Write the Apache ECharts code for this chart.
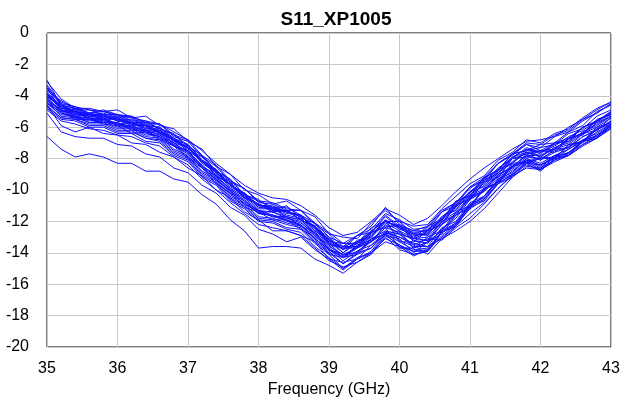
<!DOCTYPE html>
<html>
<head>
<meta charset="utf-8">
<script src="https://cdn.jsdelivr.net/npm/echarts@6/dist/echarts.min.js"></script>
<style>html,body{margin:0;padding:0;background:#fff}#c{width:623px;height:404px}</style>
</head>
<body>
<div id="c"></div>
<script>
const title = 'S11_XP1005';
const xName = 'Frequency (GHz)';
const freq = [35.0,35.2,35.4,35.6,35.8,36.0,36.2,36.4,36.6,36.8,37.0,37.2,37.4,37.6,37.8,38.0,38.2,38.4,38.6,38.8,39.0,39.2,39.4,39.6,39.8,40.0,40.2,40.4,40.6,40.8,41.0,41.2,41.4,41.6,41.8,42.0,42.2,42.4,42.6,42.8,43.0];
const s1 = [-3.1,-4.2,-4.8,-4.8,-5.0,-4.9,-5.4,-5.3,-5.9,-6.1,-6.9,-7.4,-8.5,-9.0,-10.0,-10.3,-10.9,-10.7,-11.3,-11.7,-12.8,-13.0,-13.1,-12.1,-11.3,-12.0,-12.3,-12.2,-11.2,-10.4,-9.6,-9.1,-8.1,-7.6,-6.8,-7.0,-6.4,-6.1,-5.4,-4.8,-4.4];
const s2 = [-3.4,-4.6,-4.8,-5.1,-5.0,-5.3,-5.3,-5.8,-5.8,-6.6,-6.9,-7.9,-8.5,-9.5,-9.9,-10.8,-10.9,-11.3,-11.3,-12.2,-12.8,-13.6,-12.9,-12.7,-11.6,-12.3,-12.6,-12.6,-11.4,-11.0,-9.8,-9.4,-8.3,-7.8,-7.1,-7.3,-6.6,-6.3,-5.6,-5.1,-4.5];
const s3 = [-3.6,-4.5,-5.1,-5.1,-5.3,-5.3,-5.7,-5.7,-6.1,-6.5,-7.2,-7.8,-8.8,-9.3,-10.3,-10.6,-11.3,-11.0,-11.8,-12.1,-13.3,-13.4,-13.4,-12.4,-12.0,-12.0,-13.1,-12.3,-11.9,-10.7,-10.4,-9.2,-8.8,-7.7,-7.5,-7.1,-7.0,-6.3,-5.9,-5.0,-4.6];
const s4 = [-3.8,-4.8,-4.9,-5.2,-5.2,-5.6,-5.6,-6.1,-6.1,-6.9,-7.2,-8.2,-8.7,-9.7,-10.2,-11.0,-11.1,-11.5,-11.6,-12.6,-13.1,-14.0,-13.2,-13.0,-11.9,-12.5,-12.8,-12.9,-11.7,-11.3,-10.1,-9.8,-8.7,-8.3,-7.4,-7.7,-7.0,-6.9,-6.0,-5.7,-5.0];
const s5 = [-4.0,-4.7,-5.3,-5.2,-5.5,-5.5,-5.9,-5.9,-6.4,-6.8,-7.5,-8.1,-9.1,-9.6,-10.5,-10.9,-11.4,-11.3,-11.9,-12.4,-13.5,-13.7,-13.7,-12.7,-12.4,-12.2,-13.3,-12.6,-12.2,-11.0,-10.6,-9.5,-9.2,-8.0,-7.9,-7.5,-7.6,-6.7,-6.5,-5.7,-5.3];
const s6 = [-4.1,-5.0,-5.0,-5.5,-5.4,-5.8,-5.9,-6.3,-6.4,-7.2,-7.5,-8.5,-9.0,-10.0,-10.5,-11.3,-11.4,-11.7,-11.9,-12.8,-13.5,-14.3,-13.6,-13.3,-12.2,-12.8,-13.1,-13.2,-12.0,-11.6,-10.4,-10.1,-9.0,-8.6,-7.7,-8.1,-7.4,-7.3,-6.4,-6.2,-5.4];
const s7 = [-4.3,-4.9,-5.4,-5.4,-5.7,-5.7,-6.2,-6.2,-6.7,-7.1,-7.9,-8.5,-9.4,-10.0,-10.9,-11.3,-11.7,-11.7,-12.3,-12.7,-13.8,-14.1,-14.0,-13.1,-12.8,-12.6,-13.7,-13.0,-12.6,-11.4,-11.0,-9.9,-9.5,-8.3,-8.2,-7.9,-8.0,-7.1,-6.9,-6.0,-5.7];
const s8 = [-4.5,-5.2,-5.3,-5.7,-5.7,-6.1,-6.1,-6.6,-6.7,-7.5,-7.9,-8.9,-9.4,-10.4,-10.9,-11.7,-11.8,-12.1,-12.3,-13.2,-13.9,-14.7,-14.0,-13.7,-12.6,-13.2,-13.6,-13.6,-12.4,-12.0,-10.8,-10.4,-9.3,-8.9,-8.0,-8.5,-7.8,-7.7,-6.8,-6.6,-5.9];
const s9 = [-4.7,-5.4,-5.5,-5.9,-5.9,-6.3,-6.3,-6.7,-6.9,-7.7,-8.1,-9.1,-9.6,-10.6,-11.1,-11.9,-12.0,-12.4,-12.5,-13.4,-14.1,-15.0,-14.3,-14.0,-12.9,-13.5,-13.9,-13.9,-12.7,-12.2,-11.0,-10.6,-9.5,-9.1,-8.2,-8.7,-7.9,-7.8,-6.9,-6.7,-6.0];
const s10 = [-6.6,-7.4,-7.9,-7.7,-7.9,-8.3,-8.3,-8.8,-8.8,-9.3,-9.5,-10.3,-10.9,-11.9,-12.6,-13.7,-13.6,-13.6,-13.7,-14.4,-14.8,-15.3,-14.6,-14.1,-13.0,-13.8,-14.1,-13.9,-12.7,-12.3,-11.1,-10.7,-9.6,-9.2,-8.3,-8.8,-8.0,-7.8,-6.9,-6.7,-5.9];
const s11 = [-5.1,-6.3,-6.6,-6.7,-6.7,-7.1,-7.2,-7.7,-7.9,-8.6,-8.9,-9.7,-10.2,-11.1,-11.6,-12.5,-12.8,-13.3,-13.0,-13.8,-14.4,-15.1,-14.4,-13.9,-12.8,-13.6,-13.9,-13.8,-12.6,-12.1,-10.9,-10.5,-9.4,-9.0,-8.1,-8.6,-7.8,-7.7,-6.8,-6.6,-5.8];
const s12 = [-4.6,-5.9,-6.3,-6.0,-6.4,-6.5,-7.0,-7.1,-7.6,-7.9,-8.6,-9.1,-10.0,-10.5,-11.4,-11.9,-12.6,-12.6,-12.9,-13.3,-14.4,-14.6,-14.4,-13.5,-12.9,-13.1,-14.0,-13.3,-12.8,-11.6,-11.1,-9.9,-9.6,-8.4,-8.3,-8.0,-8.0,-7.1,-7.0,-6.1,-5.8];
const s13 = [-3.5,-4.9,-5.2,-5.3,-5.2,-5.5,-5.5,-5.9,-6.0,-6.8,-7.1,-8.1,-8.7,-9.7,-10.2,-11.0,-11.0,-11.4,-11.6,-12.5,-13.1,-13.8,-12.9,-12.3,-11.1,-12.2,-12.6,-12.3,-11.3,-10.8,-9.9,-9.3,-8.3,-7.7,-7.1,-7.5,-7.0,-6.7,-6.0,-5.6,-5.1];
const s14 = [-3.9,-4.7,-4.9,-5.5,-5.5,-5.8,-5.7,-6.2,-6.3,-7.0,-7.3,-8.2,-8.8,-9.9,-10.4,-11.2,-11.2,-11.7,-11.9,-12.7,-13.4,-14.2,-13.6,-13.0,-11.9,-13.3,-13.3,-13.2,-12.2,-11.6,-10.5,-10.0,-9.0,-8.5,-7.8,-7.8,-7.4,-7.1,-6.4,-6.0,-5.4];
const s15 = [-4.4,-5.3,-5.4,-5.7,-5.6,-6.0,-6.0,-6.4,-6.6,-7.4,-7.8,-8.8,-9.3,-10.3,-10.8,-11.5,-11.6,-12.0,-12.2,-13.1,-13.8,-14.5,-13.9,-13.5,-12.7,-13.0,-13.5,-14.1,-13.1,-12.3,-11.1,-10.4,-9.3,-8.7,-8.0,-8.3,-7.8,-7.4,-6.8,-6.4,-5.8];
const s16 = [-3.7,-4.3,-4.9,-4.9,-5.2,-5.2,-5.6,-5.6,-6.1,-6.4,-7.2,-7.8,-8.8,-9.4,-10.3,-10.7,-11.1,-11.1,-11.6,-12.1,-13.0,-13.4,-13.4,-12.6,-12.0,-12.0,-12.8,-12.5,-11.9,-10.8,-10.2,-9.2,-8.7,-7.7,-7.5,-7.3,-7.1,-6.4,-6.1,-5.3,-4.9];
const s17 = [-4.2,-5.0,-5.1,-5.4,-5.4,-5.9,-5.9,-6.2,-6.3,-7.1,-7.5,-8.5,-9.1,-10.1,-10.6,-11.4,-11.4,-11.8,-12.0,-12.9,-13.7,-14.3,-13.5,-13.2,-12.4,-12.7,-13.2,-13.4,-12.5,-11.8,-10.6,-10.0,-9.1,-8.5,-7.8,-8.1,-7.6,-7.3,-6.6,-6.2,-5.6];
const s18 = [-4.0,-4.6,-5.2,-5.2,-5.5,-5.4,-5.8,-5.8,-6.3,-6.7,-7.4,-7.9,-8.9,-9.5,-10.5,-10.9,-11.4,-11.3,-11.9,-12.3,-13.4,-13.6,-13.6,-12.7,-12.3,-12.3,-13.1,-12.7,-12.1,-11.0,-10.5,-9.5,-8.9,-8.0,-7.7,-7.5,-7.4,-6.7,-6.4,-5.6,-5.2];
const s19 = [-4.6,-5.4,-5.5,-5.8,-5.8,-6.2,-6.2,-6.7,-6.8,-7.6,-8.0,-9.0,-9.5,-10.5,-11.0,-11.8,-11.9,-12.2,-12.4,-13.3,-14.0,-14.7,-14.1,-13.7,-12.8,-13.3,-13.8,-13.7,-12.7,-12.1,-11.0,-10.4,-9.4,-8.8,-8.1,-8.4,-7.9,-7.6,-6.9,-6.5,-5.9];
const s20 = [-3.3,-4.5,-4.7,-5.1,-4.9,-5.2,-5.3,-5.7,-5.8,-6.5,-6.8,-7.8,-8.4,-9.4,-9.9,-10.7,-10.8,-11.2,-11.3,-12.1,-12.7,-13.4,-12.9,-12.5,-11.5,-11.9,-12.5,-12.4,-11.4,-10.8,-9.8,-9.2,-8.3,-7.7,-7.0,-7.1,-6.5,-6.2,-5.5,-5.1,-4.5];
const s21 = [-4.3,-5.1,-5.3,-5.6,-5.5,-5.9,-6.0,-6.5,-6.5,-7.2,-7.6,-8.6,-9.2,-10.2,-10.7,-11.5,-11.6,-11.9,-12.2,-13.1,-13.8,-14.3,-13.7,-13.3,-12.4,-13.7,-13.7,-13.3,-12.2,-11.5,-10.6,-10.1,-9.2,-8.6,-7.9,-8.0,-7.5,-7.3,-6.6,-6.2,-5.6];
const s22 = [-4.8,-5.5,-5.6,-6.0,-6.0,-6.4,-6.4,-6.9,-7.0,-7.8,-8.2,-9.2,-9.7,-10.7,-11.2,-12.0,-12.1,-12.5,-12.7,-13.6,-14.3,-15.0,-14.4,-14.0,-13.1,-13.5,-14.1,-13.9,-12.9,-12.2,-11.2,-10.6,-9.6,-9.0,-8.4,-8.7,-8.1,-7.8,-7.1,-6.7,-6.0];
const s23 = [-4.1,-4.6,-5.1,-5.1,-5.4,-5.4,-5.8,-5.9,-6.4,-6.8,-7.5,-8.1,-9.1,-9.6,-10.5,-10.9,-11.3,-11.3,-11.9,-12.3,-13.4,-13.7,-13.6,-12.6,-12.0,-12.4,-13.0,-12.6,-11.9,-10.9,-10.3,-9.4,-8.9,-7.9,-7.6,-7.5,-7.4,-6.7,-6.4,-5.5,-5.2];
const s24 = [-3.9,-4.9,-5.0,-5.3,-5.2,-5.6,-5.7,-6.1,-6.2,-6.9,-7.3,-8.3,-8.9,-9.8,-10.3,-11.1,-11.2,-11.6,-11.8,-12.6,-13.3,-14.0,-13.4,-13.0,-12.1,-12.6,-13.1,-13.0,-12.0,-11.4,-10.4,-9.9,-8.9,-8.3,-7.6,-7.9,-7.3,-7.0,-6.3,-5.9,-5.3];
const s25 = [-4.5,-5.0,-5.5,-5.5,-5.8,-5.9,-6.4,-6.3,-6.8,-7.2,-8.0,-8.6,-9.6,-10.2,-11.1,-11.4,-11.9,-11.9,-12.5,-13.0,-14.1,-14.3,-14.1,-13.2,-12.8,-12.8,-13.7,-13.3,-12.6,-11.6,-11.0,-10.0,-9.5,-8.5,-8.2,-8.0,-7.9,-7.2,-6.9,-6.1,-5.7];
const s26 = [-3.0,-4.6,-4.8,-5.2,-5.1,-5.4,-5.4,-5.9,-6.0,-6.7,-7.1,-8.1,-8.7,-9.7,-10.2,-11.0,-11.1,-11.4,-11.6,-12.4,-13.0,-13.8,-13.3,-12.9,-12.0,-12.3,-12.8,-12.8,-11.8,-11.1,-10.1,-9.6,-8.6,-8.0,-7.3,-7.6,-7.1,-6.8,-6.0,-5.6,-5.0];
const s27 = [-4.4,-5.1,-5.4,-5.5,-5.7,-5.8,-6.1,-6.3,-6.6,-7.2,-7.7,-8.6,-9.3,-10.1,-10.9,-11.4,-11.7,-11.9,-12.3,-12.9,-13.8,-14.3,-13.9,-13.3,-12.7,-13.0,-13.4,-13.6,-13.1,-12.6,-12.0,-11.2,-10.2,-9.2,-8.5,-8.6,-8.1,-7.6,-7.1,-6.5,-5.9];
const s28 = [-4.2,-4.9,-5.3,-5.4,-5.6,-5.7,-6.0,-6.2,-6.5,-7.0,-7.6,-8.4,-9.2,-9.9,-10.7,-11.3,-11.6,-11.8,-12.1,-12.8,-13.6,-14.1,-13.7,-13.1,-12.6,-12.8,-13.5,-13.1,-13.2,-12.4,-11.8,-10.9,-9.9,-9.0,-8.3,-8.4,-8.0,-7.4,-6.9,-6.3,-5.8];
const s29 = [-3.5,-4.4,-4.7,-4.9,-5.0,-5.2,-5.4,-5.6,-5.8,-6.3,-6.8,-7.5,-8.3,-9.0,-9.7,-10.2,-10.5,-10.6,-11.0,-11.6,-12.4,-12.9,-12.7,-12.0,-11.2,-11.6,-12.2,-11.8,-11.0,-10.1,-9.3,-8.6,-8.0,-7.4,-6.9,-6.8,-6.6,-6.0,-5.5,-4.9,-4.4];
const s30 = [-4.0,-4.8,-5.0,-5.3,-5.3,-5.6,-5.8,-6.0,-6.3,-6.8,-7.3,-8.2,-8.9,-9.7,-10.3,-10.9,-11.2,-11.4,-11.7,-12.4,-13.2,-13.8,-13.4,-12.8,-12.0,-12.4,-12.9,-12.8,-11.9,-11.2,-10.3,-9.7,-8.9,-8.2,-7.6,-7.8,-7.3,-6.9,-6.3,-5.8,-5.3];
const s31 = [-4.9,-5.6,-5.8,-6.1,-6.2,-6.5,-6.6,-7.0,-7.2,-7.9,-8.4,-9.3,-10.0,-10.8,-11.5,-12.2,-12.4,-12.6,-12.9,-13.7,-14.5,-14.9,-14.6,-14.0,-13.3,-13.6,-14.2,-13.8,-13.0,-12.3,-11.5,-10.8,-9.9,-9.1,-8.6,-8.7,-8.2,-7.8,-7.2,-6.7,-6.1];
const s32 = [-3.8,-4.6,-5.0,-5.2,-5.3,-5.5,-5.7,-5.9,-6.2,-6.7,-7.3,-8.1,-8.9,-9.6,-10.4,-10.9,-11.2,-11.3,-11.7,-12.3,-13.2,-13.6,-13.3,-12.7,-11.7,-12.4,-12.7,-12.6,-11.7,-11.0,-10.1,-9.4,-8.7,-7.9,-7.4,-7.6,-7.2,-6.6,-6.2,-5.6,-5.1];
const allSeries = [s1,s2,s3,s4,s5,s6,s7,s8,s9,s10,s11,s12,s13,s14,s15,s16,s17,s18,s19,s20,s21,s22,s23,s24,s25,s26,s27,s28,s29,s30,s31,s32];

const chart = echarts.init(document.getElementById('c'), null, {renderer:'canvas'});
const font = 'Liberation Sans, Arial, sans-serif';
chart.setOption({
  animation: false,
  backgroundColor: '#fff',
  title: {text: title, left: 331, top: 5, textAlign: 'center',
    textStyle: {fontFamily: font, fontSize: 19, fontWeight: 'bold', color: '#000'}},
  grid: {left: 47, right: 12, top: 33, bottom: 57, show: true, borderColor: '#000', borderWidth: 1},
  xAxis: {type: 'value', min: 35, max: 43, interval: 1,
    name: xName, nameLocation: 'middle', nameGap: 34,
    nameTextStyle: {fontFamily: font, fontSize: 16, color: '#000'},
    axisLine: {show: false}, axisTick: {show: false},
    axisLabel: {fontFamily: font, fontSize: 16, color: '#000', margin: 14},
    splitLine: {show: true, lineStyle: {color: '#c8c8c8', width: 1}}},
  yAxis: {type: 'value', min: -20, max: 0, interval: 2,
    axisLine: {show: false}, axisTick: {show: false},
    axisLabel: {fontFamily: font, fontSize: 16, color: '#000', margin: 18},
    splitLine: {show: true, lineStyle: {color: '#c8c8c8', width: 1}}},
  series: allSeries.map(s => ({
    type: 'line', symbol: 'none', silent: true,
    lineStyle: {color: '#1010ff', width: 1},
    data: freq.map((f, i) => [f, s[i]])
  }))
});
</script>
</body>
</html>
